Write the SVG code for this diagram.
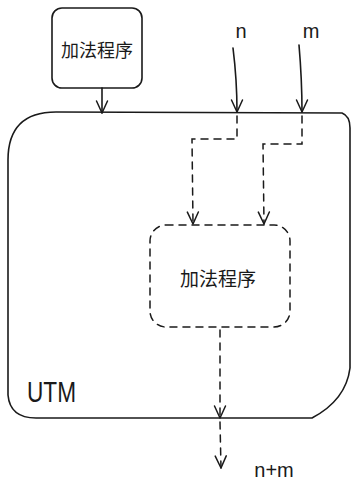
<svg xmlns="http://www.w3.org/2000/svg" width="356" height="488" viewBox="0 0 356 488">
<defs>
<style>
.ln{fill:none;stroke:#1a1a1a;stroke-width:1.6;stroke-linecap:round;stroke-linejoin:round}
.ds{fill:none;stroke:#1a1a1a;stroke-width:1.5;stroke-dasharray:7 6;stroke-linecap:round}
.tx{font-family:"Liberation Sans","Noto Sans CJK SC",sans-serif;fill:#1a1a1a}
</style>
<marker id="vd" viewBox="0 0 14 14" refX="13" refY="7" markerWidth="14" markerHeight="14" markerUnits="userSpaceOnUse" orient="auto">
<path d="M1 1.5 L13 7 L1 12.5" fill="none" stroke="#1a1a1a" stroke-width="1.5" stroke-linecap="round" stroke-linejoin="round"/>
</marker>
</defs>
<rect width="356" height="488" fill="#ffffff"/>
<g id="utm">
<path class="ln" d="M8 395 L8 160 Q8 112 56 112 L342 113 Q350 116 350 128 L350 368 Q346 400 312 418 L36 418 Q10 418 8 395 Z"/>
<text class="tx" x="27" y="402" font-size="29" textLength="49" lengthAdjust="spacingAndGlyphs">UTM</text>
</g>
<g id="program-outer">
<rect class="ln" x="52" y="8" width="90" height="80" rx="10"/>
<text class="tx" x="97" y="57" font-size="18" text-anchor="middle">加法程序</text>
</g>
<g id="program-inner">
<rect class="ds" x="150" y="225" width="140" height="102" rx="16"/>
<text class="tx" x="218" y="286" font-size="19" text-anchor="middle">加法程序</text>
</g>
<g id="input-n">
<text class="tx" x="241" y="38" font-size="20" text-anchor="middle">n</text>
</g>
<g id="input-m">
<text class="tx" x="311" y="38" font-size="20" text-anchor="middle">m</text>
</g>
<g id="output">
<text class="tx" x="274" y="477" font-size="20" text-anchor="middle">n+m</text>
</g>
<g id="connectors">
<path class="ln" d="M102 88 L102 113" marker-end="url(#vd)"/>
<path class="ln" d="M233 48 Q237 80 237 112" marker-end="url(#vd)"/>
<path class="ln" d="M299 45 Q302 80 302 112" marker-end="url(#vd)"/>
<path class="ds" d="M237 116 L237 139 L192 139 L193 224" marker-end="url(#vd)"/>
<path class="ds" d="M302 116 L302 144 L263 144 L264 224" marker-end="url(#vd)"/>
<path class="ds" d="M220 330 L220 418" marker-end="url(#vd)"/>
<path class="ds" d="M220 422 L221 468" marker-end="url(#vd)"/>
</g>
</svg>
